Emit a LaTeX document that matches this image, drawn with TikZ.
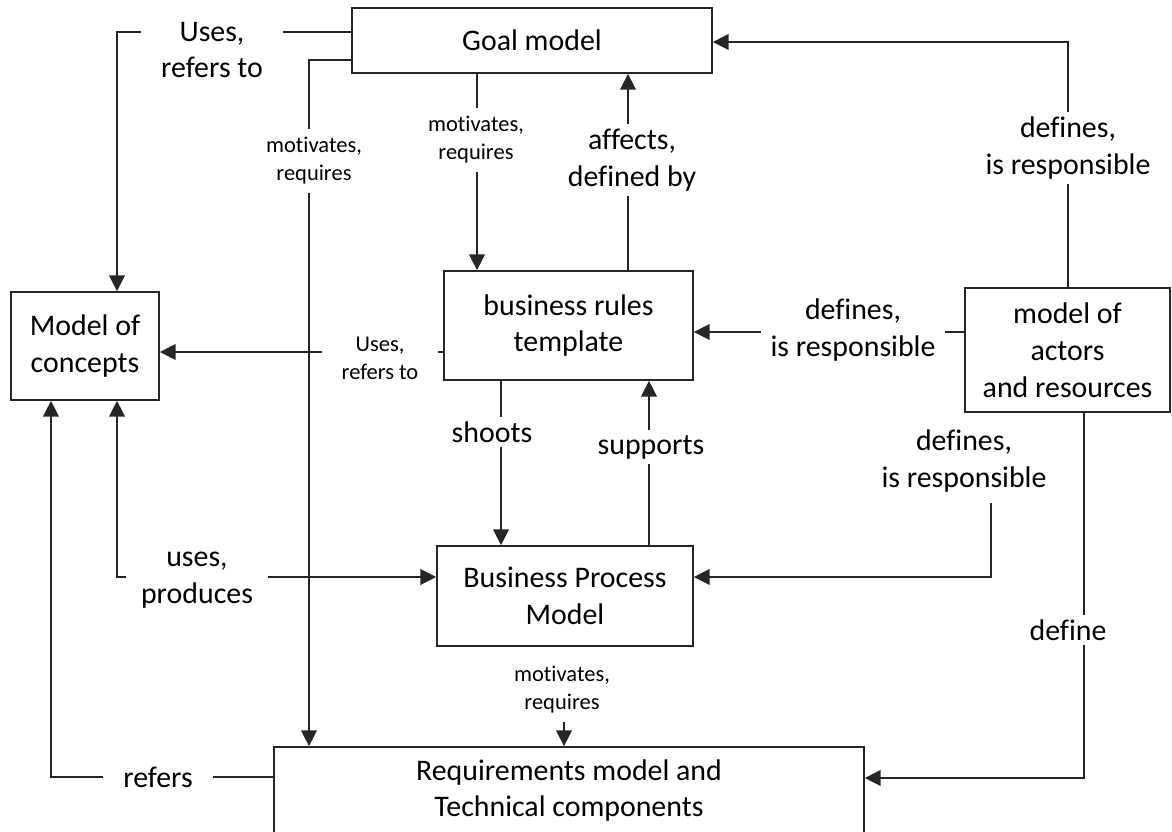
\documentclass[tikz,border=0pt]{standalone}
\usepackage{fontspec}
\setmainfont{Carlito}[Ligatures=NoCommon]
\usepackage{tikz}
\usetikzlibrary{arrows.meta,calc}
\definecolor{linegray}{gray}{0.15}

\begin{document}
\begin{tikzpicture}[x=0.02cm,y=-0.02cm,>={Triangle[length=9pt,width=9pt]},
    box/.style={draw=linegray,line width=1pt,inner sep=0pt,align=center,
      font=\fontsize{17}{21}\selectfont},
    conn/.style={draw=linegray,line width=0.8pt},
    biglbl/.style={fill=white,align=center,inner xsep=0.2cm,inner ysep=0.1cm,
      font=\fontsize{17}{21}\selectfont},
    smalllbl/.style={fill=white,align=center,inner xsep=0.2cm,inner ysep=0.16cm,
      font=\fontsize{12.8}{16}\selectfont}]
  \useasboundingbox (0,0) rectangle (1172,831);
  \clip (0,0) rectangle (1172,831);
  % Kaesten
  \node[box,minimum width=7.2cm,minimum height=1.3cm] (goal) at (532,40.5) {Goal model};
  \node[box,minimum width=2.96cm,minimum height=2.16cm] (concepts) at (85,346) {Model of\\concepts};
  \node[box,minimum width=4.98cm,minimum height=2.18cm] (rules) at (568.5,325.5) {business rules\\template};
  \node[box,minimum width=4.1cm,minimum height=2.48cm] (actors) at (1067.5,350) {model of\\actors\\and resources};
  \node[box,minimum width=5.12cm,minimum height=2cm] (bpm) at (565,596) {Business Process\\Model};
  \node[box,minimum width=11.8cm,minimum height=1.74cm] (req) at (569,790.5) {Requirements model and\\Technical components};
  % Verbindungen
  \draw[conn,->] (goal.west |- 0,32) -- (117,32) -- (concepts.north -| 117,0);
  \draw[conn,->] (goal.west |- 0,60) -- (309,60) -- (req.north -| 309,0);
  \draw[conn,->] (goal.south -| 477,0) -- (rules.north -| 477,0);
  \draw[conn,->] (rules.north -| 628,0) -- (goal.south -| 628,0);
  \draw[conn,->] (actors.north -| 1068,0) -- (1068,42) -- (goal.east |- 0,42);
  \draw[conn,->] (actors.west |- 0,332) -- (rules.east |- 0,332);
  \draw[conn,->] (rules.west |- 0,352) -- (concepts.east |- 0,352);
  \draw[conn,->] (rules.south -| 501,0) -- (bpm.north -| 501,0);
  \draw[conn,->] (bpm.north -| 649,0) -- (rules.south -| 649,0);
  \coordinate (respstart) at (991,503);
  \draw[conn,->] (respstart) -- (991,577) -- (bpm.east |- 0,577);
  \draw[conn,->] (actors.south -| 1084,0) -- (1084,778) -- (req.east |- 0,778);
  \draw[conn,<->] (concepts.south -| 117,0) -- (117,577) -- (bpm.west |- 0,577);
  \draw[conn,->] (req.west |- 0,777) -- (51,777) -- (concepts.south -| 51,0);
  \coordinate (motstart) at (564,722);
  \draw[conn,->] (motstart) -- (req.north -| motstart);
  % Beschriftungen
  \node[biglbl,inner xsep=0.4cm] (usesgoal) at (212,50) {Uses,\\refers to};
  \node[smalllbl] (motreq) at (314,161) {motivates,\\requires};
  \node[smalllbl] (motrules) at (476,140) {motivates,\\requires};
  \node[biglbl] (affects) at (632,160) {affects,\\defined by};
  \node[biglbl] (defgoal) at (1068,148) {defines,\\is responsible};
  \node[biglbl] (defrules) at (853,330) {defines,\\is responsible};
  \node[smalllbl,inner xsep=0.4cm] (usesrules) at (380,358) {Uses,\\refers to};
  \node[biglbl] (shoots) at (492,432) {shoots};
  \node[biglbl] (supports) at (651,447) {supports};
  \node[biglbl] (defbpm) at (964,461) {defines,\\is responsible};
  \node[biglbl] (define) at (1068,630) {define};
  \node[biglbl,inner xsep=0.3cm] (usesprod) at (197,580) {uses,\\produces};
  \node[biglbl,inner xsep=0.4cm] (refers) at (158,777) {refers};
  \node[smalllbl] (motbpm) at (562,690) {motivates,\\requires};
\end{tikzpicture}
\end{document}
